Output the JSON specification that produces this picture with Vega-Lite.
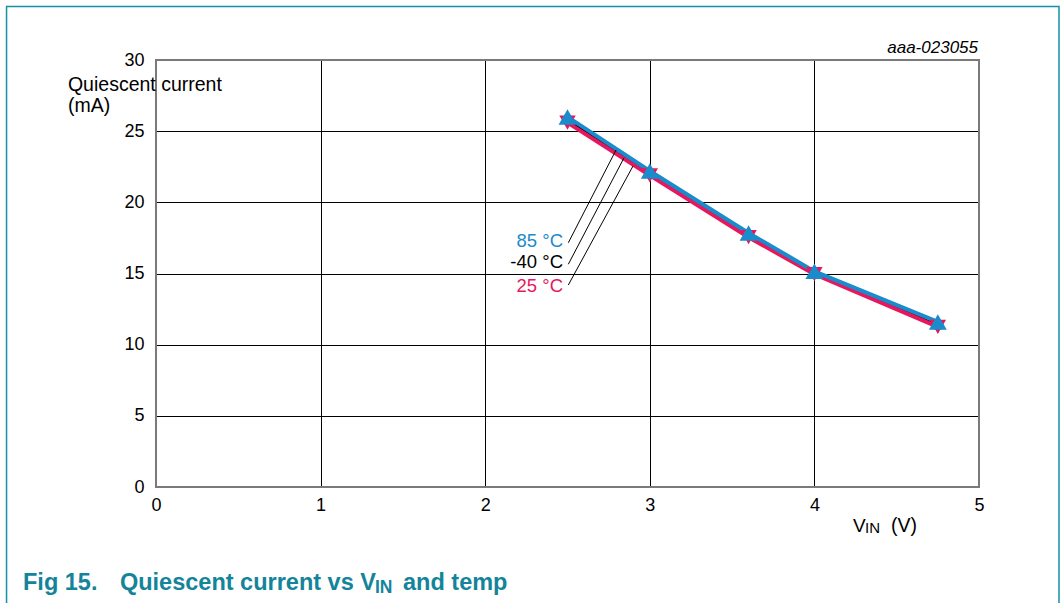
{
  "$schema": "https://vega.github.io/schema/vega-lite/v6.json",
  "width": 823,
  "height": 427,
  "autosize": {"type": "none"},
  "padding": {"left": 156, "top": 60, "right": 82, "bottom": 116},
  "background": "white",
  "config": {
    "font": "Liberation Sans",
    "view": {"stroke": null},
    "axis": {
      "grid": true,
      "gridColor": "#000000",
      "gridWidth": 1,
      "gridOpacity": 1,
      "domain": false,
      "ticks": false,
      "labelFlush": false,
      "labelFont": "Liberation Sans",
      "labelFontSize": 18,
      "labelColor": "#000000"
    },
    "axisX": {"labelPadding": 9, "tickCount": 5},
    "axisY": {"labelPadding": 12, "tickCount": 6},
    "legend": {"disable": true}
  },
  "data": {
    "values": [
      {"temp": "25 °C", "vin": 2.5, "iq": 25.6},
      {"temp": "25 °C", "vin": 3.0, "iq": 21.9},
      {"temp": "25 °C", "vin": 3.6, "iq": 17.55},
      {"temp": "25 °C", "vin": 4.0, "iq": 14.95},
      {"temp": "25 °C", "vin": 4.75, "iq": 11.25},
      {"temp": "-40 °C", "vin": 2.5, "iq": 25.8},
      {"temp": "-40 °C", "vin": 3.0, "iq": 22.05},
      {"temp": "-40 °C", "vin": 3.6, "iq": 17.7},
      {"temp": "-40 °C", "vin": 4.0, "iq": 15.05},
      {"temp": "-40 °C", "vin": 4.75, "iq": 11.35},
      {"temp": "85 °C", "vin": 2.5, "iq": 26.0},
      {"temp": "85 °C", "vin": 3.0, "iq": 22.2},
      {"temp": "85 °C", "vin": 3.6, "iq": 17.85},
      {"temp": "85 °C", "vin": 4.0, "iq": 15.15},
      {"temp": "85 °C", "vin": 4.75, "iq": 11.6}
    ]
  },
  "layer": [
    {
      "data": {"values": [{}]},
      "mark": {"type": "rect", "fill": null, "stroke": "#1491a6", "strokeWidth": 1.5, "clip": false},
      "encoding": {
        "x": {"datum": -0.908, "type": "quantitative", "scale": {"domain": [0, 5], "nice": false}, "title": null},
        "x2": {"datum": 5.486},
        "y": {"datum": 33.76, "type": "quantitative", "scale": {"domain": [0, 30], "nice": false}, "title": null},
        "y2": {"datum": -9}
      }
    },
    {
      "transform": [{"filter": "datum.temp === '-40 °C'"}],
      "mark": {"type": "line", "strokeWidth": 3},
      "encoding": {
        "x": {"field": "vin", "type": "quantitative", "scale": {"domain": [0, 5], "nice": false}, "title": null},
        "y": {"field": "iq", "type": "quantitative", "scale": {"domain": [0, 30], "nice": false}, "title": null},
        "color": {"field": "temp", "type": "nominal", "scale": {"domain": ["25 °C", "-40 °C", "85 °C"], "range": ["#e8175d", "#000000", "#1a8bcb"]}}
      }
    },
    {
      "transform": [{"filter": "datum.temp === '25 °C'"}],
      "mark": {"type": "line", "strokeWidth": 4},
      "encoding": {
        "x": {"field": "vin", "type": "quantitative", "scale": {"domain": [0, 5], "nice": false}, "title": null},
        "y": {"field": "iq", "type": "quantitative", "scale": {"domain": [0, 30], "nice": false}, "title": null},
        "color": {"field": "temp", "type": "nominal"}
      }
    },
    {
      "transform": [{"filter": "datum.temp === '85 °C'"}],
      "mark": {"type": "line", "strokeWidth": 4},
      "encoding": {
        "x": {"field": "vin", "type": "quantitative", "scale": {"domain": [0, 5], "nice": false}, "title": null},
        "y": {"field": "iq", "type": "quantitative", "scale": {"domain": [0, 30], "nice": false}, "title": null},
        "color": {"field": "temp", "type": "nominal"}
      }
    },
    {
      "transform": [{"filter": "datum.temp === '-40 °C'"}],
      "mark": {"type": "point", "filled": true, "opacity": 1, "shape": "square", "size": 60},
      "encoding": {
        "x": {"field": "vin", "type": "quantitative", "scale": {"domain": [0, 5], "nice": false}, "title": null},
        "y": {"field": "iq", "type": "quantitative", "scale": {"domain": [0, 30], "nice": false}, "title": null},
        "color": {"field": "temp", "type": "nominal"}
      }
    },
    {
      "transform": [{"filter": "datum.temp === '25 °C'"}],
      "mark": {"type": "point", "filled": true, "opacity": 1, "shape": "triangle-down", "size": 270},
      "encoding": {
        "x": {"field": "vin", "type": "quantitative", "scale": {"domain": [0, 5], "nice": false}, "title": null},
        "y": {"field": "iq", "type": "quantitative", "scale": {"domain": [0, 30], "nice": false}, "title": null},
        "color": {"field": "temp", "type": "nominal"}
      }
    },
    {
      "transform": [{"filter": "datum.temp === '85 °C'"}],
      "mark": {"type": "point", "filled": true, "opacity": 1, "shape": "triangle-up", "size": 320},
      "encoding": {
        "x": {"field": "vin", "type": "quantitative", "scale": {"domain": [0, 5], "nice": false}, "title": null},
        "y": {"field": "iq", "type": "quantitative", "scale": {"domain": [0, 30], "nice": false}, "title": null},
        "color": {"field": "temp", "type": "nominal"}
      }
    },
    {
      "data": {"values": [{}]},
      "mark": {"type": "rect", "fill": null, "stroke": "#7a7a7a", "strokeWidth": 2},
      "encoding": {
        "x": {"datum": 0, "type": "quantitative", "scale": {"domain": [0, 5], "nice": false}, "title": null},
        "x2": {"datum": 5},
        "y": {"datum": 0, "type": "quantitative", "scale": {"domain": [0, 30], "nice": false}, "title": null},
        "y2": {"datum": 30}
      }
    },
    {
      "data": {
        "values": [
          {"temp": "85 °C", "x1": 2.505, "y1": 17.16, "x2": 2.795, "y2": 23.68},
          {"temp": "-40 °C", "x1": 2.505, "y1": 15.65, "x2": 2.843, "y2": 23.12},
          {"temp": "25 °C", "x1": 2.505, "y1": 14.19, "x2": 2.898, "y2": 22.55}
        ]
      },
      "mark": {"type": "rule", "color": "#000000", "strokeWidth": 1},
      "encoding": {
        "x": {"field": "x1", "type": "quantitative", "scale": {"domain": [0, 5], "nice": false}, "title": null},
        "x2": {"field": "x2"},
        "y": {"field": "y1", "type": "quantitative", "scale": {"domain": [0, 30], "nice": false}, "title": null},
        "y2": {"field": "y2"}
      }
    },
    {
      "data": {
        "values": [
          {"temp": "85 °C", "lx": 2.4727, "ly": 16.86},
          {"temp": "-40 °C", "lx": 2.4727, "ly": 15.36},
          {"temp": "25 °C", "lx": 2.4727, "ly": 13.72}
        ]
      },
      "mark": {"type": "text", "align": "right", "baseline": "alphabetic", "fontSize": 18.5},
      "encoding": {
        "x": {"field": "lx", "type": "quantitative", "scale": {"domain": [0, 5], "nice": false}, "title": null},
        "y": {"field": "ly", "type": "quantitative", "scale": {"domain": [0, 30], "nice": false}, "title": null},
        "text": {"field": "temp"},
        "color": {"field": "temp", "type": "nominal"}
      }
    },
    {
      "data": {"values": [{}]},
      "mark": {"type": "text", "align": "left", "baseline": "alphabetic", "fontSize": 19.5, "color": "#000000", "text": "Quiescent current"},
      "encoding": {
        "x": {"datum": -0.535, "type": "quantitative", "scale": {"domain": [0, 5], "nice": false}, "title": null},
        "y": {"datum": 27.82, "type": "quantitative", "scale": {"domain": [0, 30], "nice": false}, "title": null}
      }
    },
    {
      "data": {"values": [{}]},
      "mark": {"type": "text", "align": "left", "baseline": "alphabetic", "fontSize": 19.5, "color": "#000000", "text": "(mA)"},
      "encoding": {
        "x": {"datum": -0.535, "type": "quantitative", "scale": {"domain": [0, 5], "nice": false}, "title": null},
        "y": {"datum": 26.33, "type": "quantitative", "scale": {"domain": [0, 30], "nice": false}, "title": null}
      }
    },
    {
      "data": {"values": [{}]},
      "mark": {"type": "text", "align": "left", "baseline": "alphabetic", "fontSize": 19, "color": "#000000", "text": "V"},
      "encoding": {
        "x": {"datum": 4.235, "type": "quantitative", "scale": {"domain": [0, 5], "nice": false}, "title": null},
        "y": {"datum": -3.16, "type": "quantitative", "scale": {"domain": [0, 30], "nice": false}, "title": null}
      }
    },
    {
      "data": {"values": [{}]},
      "mark": {"type": "text", "align": "left", "baseline": "alphabetic", "fontSize": 15, "color": "#000000", "text": "IN"},
      "encoding": {
        "x": {"datum": 4.308, "type": "quantitative", "scale": {"domain": [0, 5], "nice": false}, "title": null},
        "y": {"datum": -3.23, "type": "quantitative", "scale": {"domain": [0, 30], "nice": false}, "title": null}
      }
    },
    {
      "data": {"values": [{}]},
      "mark": {"type": "text", "align": "left", "baseline": "alphabetic", "fontSize": 19.5, "color": "#000000", "text": "(V)"},
      "encoding": {
        "x": {"datum": 4.465, "type": "quantitative", "scale": {"domain": [0, 5], "nice": false}, "title": null},
        "y": {"datum": -3.16, "type": "quantitative", "scale": {"domain": [0, 30], "nice": false}, "title": null}
      }
    },
    {
      "data": {"values": [{}]},
      "mark": {"type": "text", "align": "right", "baseline": "alphabetic", "fontSize": 17, "fontStyle": "italic", "color": "#000000", "text": "aaa-023055"},
      "encoding": {
        "x": {"datum": 4.994, "type": "quantitative", "scale": {"domain": [0, 5], "nice": false}, "title": null},
        "y": {"datum": 30.49, "type": "quantitative", "scale": {"domain": [0, 30], "nice": false}, "title": null}
      }
    },
    {
      "data": {"values": [{}]},
      "mark": {"type": "text", "align": "left", "baseline": "alphabetic", "fontSize": 23.5, "fontWeight": "bold", "color": "#13849a", "text": "Fig 15."},
      "encoding": {
        "x": {"datum": -0.808, "type": "quantitative", "scale": {"domain": [0, 5], "nice": false}, "title": null},
        "y": {"datum": -7.24, "type": "quantitative", "scale": {"domain": [0, 30], "nice": false}, "title": null}
      }
    },
    {
      "data": {"values": [{}]},
      "mark": {"type": "text", "align": "left", "baseline": "alphabetic", "fontSize": 23.5, "fontWeight": "bold", "color": "#13849a", "text": "Quiescent current vs V"},
      "encoding": {
        "x": {"datum": -0.219, "type": "quantitative", "scale": {"domain": [0, 5], "nice": false}, "title": null},
        "y": {"datum": -7.24, "type": "quantitative", "scale": {"domain": [0, 30], "nice": false}, "title": null}
      }
    },
    {
      "data": {"values": [{}]},
      "mark": {"type": "text", "align": "left", "baseline": "alphabetic", "fontSize": 17.5, "fontWeight": "bold", "color": "#13849a", "text": "IN"},
      "encoding": {
        "x": {"datum": 1.3305, "type": "quantitative", "scale": {"domain": [0, 5], "nice": false}, "title": null},
        "y": {"datum": -7.45, "type": "quantitative", "scale": {"domain": [0, 30], "nice": false}, "title": null}
      }
    },
    {
      "data": {"values": [{}]},
      "mark": {"type": "text", "align": "left", "baseline": "alphabetic", "fontSize": 23.5, "fontWeight": "bold", "color": "#13849a", "text": "and temp"},
      "encoding": {
        "x": {"datum": 1.5006, "type": "quantitative", "scale": {"domain": [0, 5], "nice": false}, "title": null},
        "y": {"datum": -7.24, "type": "quantitative", "scale": {"domain": [0, 30], "nice": false}, "title": null}
      }
    }
  ]
}
